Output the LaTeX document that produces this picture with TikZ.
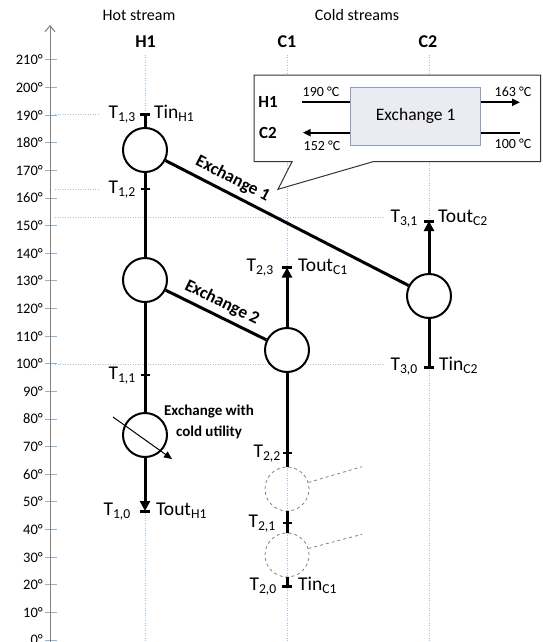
\documentclass[tikz,border=0pt]{standalone}
\usepackage{fontspec}
\setmainfont{Carlito}
\usetikzlibrary{arrows.meta,calc}
\definecolor{helpblue}{RGB}{157,195,230}
\definecolor{tickblue}{RGB}{140,178,216}
\definecolor{axisgray}{RGB}{128,128,128}
\definecolor{boxfill}{RGB}{234,236,242}
\definecolor{boxedge}{RGB}{140,160,190}
\begin{document}
\begin{tikzpicture}[x=1pt,y=-1pt,
  helper/.style={helpblue, line width=0.9pt, dash pattern=on 1pt off 1.5pt},
  stream/.style={line width=3pt},
  arr/.style={-{Triangle[width=10pt,length=10pt]}},
  hx/.style={circle, draw, fill=white, line width=2pt, minimum size=44pt, inner sep=0pt},
  hxdash/.style={circle, draw=gray, dashed, line width=0.8pt, minimum size=44pt, inner sep=0pt},
  tbar/.style={line width=3pt},
  mbar/.style={line width=2.5pt},
  axlab/.style={font=\fontsize{14.5}{16}\selectfont, anchor=east, inner sep=0pt},
  tl/.style={font=\fontsize{19.5}{22}\selectfont, anchor=base east, inner sep=0pt},
  tr/.style={font=\fontsize{19.5}{22}\selectfont, anchor=base west, inner sep=0pt},
  exlab/.style={font=\bfseries\fontsize{17.5}{20}\selectfont},
  head/.style={font=\fontsize{16}{19}\selectfont, inner sep=0pt},
  bhead/.style={font=\bfseries\fontsize{18}{21}\selectfont, inner sep=0pt},
  cbold/.style={font=\bfseries\fontsize{17}{20}\selectfont, inner sep=0pt},
  ctemp/.style={font=\fontsize{14}{16}\selectfont, inner sep=0pt},
  cthick/.style={line width=2pt},
  carr/.style={-{Triangle[width=7pt,length=8pt]}}
]
\useasboundingbox (0,0) rectangle (542,642);

% helper guide lines
\draw[helper] (145,55) -- (145,642);
\draw[helper] (287,55) -- (287,642);
\draw[helper] (429,55) -- (429,642);
\draw[helper] (55,114) -- (100,114);
\draw[helper] (55,189) -- (100,189);
\draw[helper] (55,217) -- (385,217);
\draw[helper] (55,364) -- (385,364);

% temperature axis
\foreach \tval in {0,10,...,210}{
  \pgfmathsetmacro\yy{640-2.762*\tval}
  \draw[tickblue, line width=1pt] (45,\yy) -- (57,\yy);
  \node[axlab] (ax\tval) at (43,\yy) {\tval°};
}
\coordinate (axB) at (50,642);
\coordinate (axT) at (50,25);
\draw[axisgray, line width=1pt, -{Straight Barb[length=6pt,width=10pt]}] (axB) -- (axT);

% headers
\node[head] (hot) at (139,15) {Hot stream};
\node[head] (cold) at (357,15) {Cold streams};
\node[bhead] (nH1) at (145.5,42) {H1};
\node[bhead] (nC1) at (287,42) {C1};
\node[bhead] (nC2) at (428,42) {C2};

% exchangers
\node[hx] (hA) at (145,150) {};
\node[hx] (hB) at (145,280) {};
\node[hx] (hU) at (145,435) {};
\node[hx] (cA) at (287,350) {};
\node[hxdash] (cD2) at (287,489) {};
\node[hxdash] (cD1) at (287,555) {};
\node[hx] (kA) at (429,296) {};

% temperature points
\coordinate (h13) at (145,114);
\coordinate (h12) at (145,189);
\coordinate (h11) at (145,375);
\coordinate (h10) at (145,511);
\coordinate (c23) at (287,267.5);
\coordinate (c22) at (287,453);
\coordinate (c21) at (287,523);
\coordinate (c20) at (287,586.5);
\coordinate (k31) at (429,221);
\coordinate (k30) at (429,367.5);

% hot stream H1
\draw[stream] (h13) -- (hA);
\draw[stream] (hA) -- (hB);
\draw[stream] (hB) -- (hU);
\draw[stream, arr] (hU) -- (h10);
% cold stream C1
\draw[stream] (c20) -- (cD1);
\draw[stream] (cD1) -- (cD2);
\draw[stream] (cD2) -- (cA);
\draw[stream, arr] (cA) -- (c23);
% cold stream C2
\draw[stream] (k30) -- (kA);
\draw[stream, arr] (kA) -- (k31);

% tick bars
\draw[tbar] ([xshift=-5pt]h13) -- ([xshift=5pt]h13);
\draw[mbar] ([xshift=-4.5pt]h12) -- ([xshift=4.5pt]h12);
\draw[mbar] ([xshift=-4.5pt]h11) -- ([xshift=4.5pt]h11);
\draw[tbar] ([xshift=-5pt]h10) -- ([xshift=5pt]h10);
\draw[tbar] ([xshift=-5pt]c23) -- ([xshift=5pt]c23);
\draw[mbar] ([xshift=-4.5pt]c22) -- ([xshift=4.5pt]c22);
\draw[mbar] ([xshift=-4.5pt]c21) -- ([xshift=4.5pt]c21);
\draw[tbar] ([xshift=-5pt]c20) -- ([xshift=5pt]c20);
\draw[tbar] ([xshift=-5pt]k31) -- ([xshift=5pt]k31);
\draw[tbar] ([xshift=-5pt]k30) -- ([xshift=5pt]k30);

% exchange connections
\draw[stream] (hA) -- node[exlab, sloped, pos=0.25, anchor=south, inner sep=5pt] (lab1) {Exchange 1} (kA);
\draw[stream] (hB) -- node[exlab, sloped, pos=0.5, anchor=south, inner sep=4.5pt] (lab2) {Exchange 2} (cA);

% dashed stubs of possible exchangers
\coordinate (s2) at (362,466.7);
\coordinate (s1) at (362,534.3);
\draw[gray, dashed, line width=0.8pt] (cD2.17) -- (s2);
\draw[gray, dashed, line width=0.8pt] (cD1.17) -- (s1);

% cold utility
\coordinate (cu1) at (113,417);
\coordinate (cu2) at (172,459);
\draw[line width=1pt, -{Triangle[width=7pt,length=8pt]}] (cu1) -- (cu2);
\node[font=\bfseries\fontsize{15}{21}\selectfont, align=center, inner sep=0pt] (cul) at (209,422) {Exchange with\\cold utility};

% temperature labels
\node[tl] (lT13) at (136,118) {T\textsubscript{1,3}};
\node[tr] (lTinH) at (154,118) {Tin\textsubscript{H1}};
\node[tl] (lT12) at (136,193) {T\textsubscript{1,2}};
\node[tl] (lT11) at (136,379) {T\textsubscript{1,1}};
\node[tl] (lT10) at (131,515) {T\textsubscript{1,0}};
\node[tr] (lToutH) at (156,515) {Tout\textsubscript{H1}};
\node[tl] (lT23) at (274,271.5) {T\textsubscript{2,3}};
\node[tr] (lToutC1) at (298,271.5) {Tout\textsubscript{C1}};
\node[tl] (lT22) at (281,457) {T\textsubscript{2,2}};
\node[tl] (lT21) at (276,527) {T\textsubscript{2,1}};
\node[tl] (lT20) at (277,590.5) {T\textsubscript{2,0}};
\node[tr] (lTinC1) at (298,590.5) {Tin\textsubscript{C1}};
\node[tl] (lT31) at (418,222) {T\textsubscript{3,1}};
\node[tr] (lToutC2) at (438,222) {Tout\textsubscript{C2}};
\node[tl] (lT30) at (418,370) {T\textsubscript{3,0}};
\node[tr] (lTinC2) at (439,370) {Tin\textsubscript{C2}};

% callout
\draw[draw=black!80, fill=white, line width=1pt] (254,75) -- (540.5,75) -- (540.5,161.7) -- (373,161.7) -- (278,189.3) -- (292,161.7) -- (254,161.7) -- cycle;
\node[draw=boxedge, fill=boxfill, line width=0.8pt, minimum width=130pt, minimum height=57.7pt, inner sep=0pt, font=\fontsize{17.5}{20}\selectfont] (ex) at (415.7,116.2) {Exchange 1};
\coordinate (h1in) at (301.7,102.3);
\coordinate (h1out) at (520,102.3);
\coordinate (c2in) at (520,132.7);
\coordinate (c2out) at (302.7,132.7);
\draw[cthick] (h1in) -- (h1in -| ex.west);
\draw[cthick, carr] (h1in -| ex.east) -- (h1out);
\draw[cthick] (c2in) -- (c2in -| ex.east);
\draw[cthick, carr] (c2out -| ex.west) -- (c2out);
\node[cbold] (cH1) at (268,102) {H1};
\node[cbold] (cC2) at (268,133) {C2};
\node[ctemp] (t190) at (321,91.7) {190 °C};
\node[ctemp] (t163) at (513,91.7) {163 °C};
\node[ctemp] (t152) at (322,145.5) {152 °C};
\node[ctemp] (t100) at (513,144) {100 °C};
\end{tikzpicture}
\end{document}
